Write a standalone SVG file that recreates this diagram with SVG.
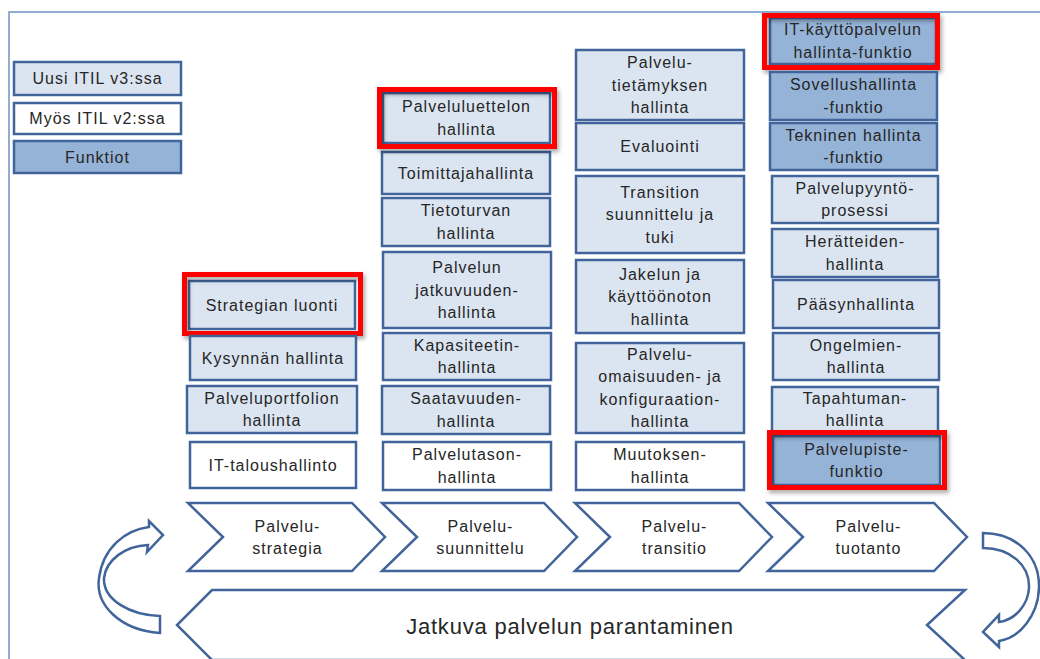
<svg xmlns="http://www.w3.org/2000/svg" width="1040" height="659" viewBox="0 0 1040 659">
  <defs>
    <filter id="shadow" x="-10%" y="-20%" width="130%" height="150%">
      <feDropShadow dx="2" dy="3" stdDeviation="2" flood-color="#000" flood-opacity="0.35"/>
    </filter>
    <style>
      .box { stroke: #41659a; stroke-width: 2.5; }
      .lt { fill: #dbe5f1; }
      .wh { fill: #ffffff; }
      .dk { fill: #95b3d7; }
      .red { fill: none; stroke: #ff0000; stroke-width: 5; filter: url(#shadow); }
      .frame { stroke: #6d93c4; stroke-width: 1.5; fill: none; }
      .shape { fill: #ffffff; stroke: #41659a; stroke-width: 2.5; stroke-linejoin: miter; }
      .arrow { fill: #ffffff; stroke: #41659a; stroke-width: 2.5; stroke-linejoin: miter; }
      text { font-family: "Liberation Sans", Arial, sans-serif; font-size: 16px; fill: #262626; text-anchor: middle; letter-spacing: 1px; }
      .big { font-size: 22px; letter-spacing: 0.8px; }
    </style>
  </defs>

  <!-- page frame -->
  <path class="frame" d="M9,659 L9,12 L1040,12"/>

  <!-- legend -->
  <g id="legend-new">
    <rect class="box lt" x="14" y="62" width="167" height="33"/>
    <text x="97.5" y="84">Uusi ITIL v3:ssa</text>
  </g>
  <g id="legend-also">
    <rect class="box wh" x="14" y="103" width="167" height="31"/>
    <text x="97.5" y="124">Myös ITIL v2:ssa</text>
  </g>
  <g id="legend-functions">
    <rect class="box dk" x="14" y="141" width="167" height="32"/>
    <text x="97.5" y="162.5">Funktiot</text>
  </g>

  <!-- strategy column -->
  <g id="strategian-luonti">
    <rect class="box lt" x="189" y="281" width="166" height="48"/>
    <rect class="red" x="184.5" y="274.5" width="176" height="59"/>
    <text x="272" y="310.5">Strategian luonti</text>
  </g>
  <g id="kysynnan-hallinta">
    <rect class="box lt" x="190" y="336" width="166" height="44"/>
    <text x="273" y="363.5">Kysynnän hallinta</text>
  </g>
  <g id="palveluportfolion-hallinta">
    <rect class="box lt" x="187" y="386" width="170" height="47"/>
    <text x="272" y="403.75">Palveluportfolion</text>
    <text x="272" y="426.25">hallinta</text>
  </g>
  <g id="it-taloushallinto">
    <rect class="box wh" x="190" y="442" width="166" height="46"/>
    <text x="273" y="470.5">IT-taloushallinto</text>
  </g>

  <!-- design column -->
  <g id="toimittajahallinta">
    <rect class="box lt" x="382" y="152" width="168" height="42"/>
    <text x="466" y="178.5">Toimittajahallinta</text>
  </g>
  <g id="palveluluettelon-hallinta">
    <rect class="box lt" x="383" y="93" width="167" height="50"/>
    <rect class="red" x="379.5" y="89.5" width="175" height="57"/>
    <text x="466.5" y="112.25">Palveluluettelon</text>
    <text x="466.5" y="134.75">hallinta</text>
  </g>
  <g id="tietoturvan-hallinta">
    <rect class="box lt" x="382" y="198" width="168" height="48"/>
    <text x="466" y="216.25">Tietoturvan</text>
    <text x="466" y="238.75">hallinta</text>
  </g>
  <g id="jatkuvuudenhallinta">
    <rect class="box lt" x="383" y="252" width="168" height="76"/>
    <text x="467" y="273">Palvelun</text>
    <text x="467" y="295.5">jatkuvuuden-</text>
    <text x="467" y="318">hallinta</text>
  </g>
  <g id="kapasiteetinhallinta">
    <rect class="box lt" x="383" y="333" width="168" height="47"/>
    <text x="467" y="350.75">Kapasiteetin-</text>
    <text x="467" y="373.25">hallinta</text>
  </g>
  <g id="saatavuudenhallinta">
    <rect class="box lt" x="382" y="386" width="168" height="48"/>
    <text x="466" y="404.25">Saatavuuden-</text>
    <text x="466" y="426.75">hallinta</text>
  </g>
  <g id="palvelutasonhallinta">
    <rect class="box wh" x="383" y="442" width="168" height="48"/>
    <text x="467" y="460.25">Palvelutason-</text>
    <text x="467" y="482.75">hallinta</text>
  </g>

  <!-- transition column -->
  <g id="tietamyksen-hallinta">
    <rect class="box lt" x="576" y="50" width="168" height="70"/>
    <text x="660" y="68">Palvelu-</text>
    <text x="660" y="90.5">tietämyksen</text>
    <text x="660" y="113">hallinta</text>
  </g>
  <g id="evaluointi">
    <rect class="box lt" x="576" y="123" width="168" height="47"/>
    <text x="660" y="152">Evaluointi</text>
  </g>
  <g id="transition-suunnittelu">
    <rect class="box lt" x="576" y="176" width="168" height="77"/>
    <text x="660" y="197.5">Transition</text>
    <text x="660" y="220">suunnittelu ja</text>
    <text x="660" y="242.5">tuki</text>
  </g>
  <g id="jakelu-kayttoonotto">
    <rect class="box lt" x="576" y="260" width="168" height="73"/>
    <text x="660" y="279.5">Jakelun ja</text>
    <text x="660" y="302">käyttöönoton</text>
    <text x="660" y="324.5">hallinta</text>
  </g>
  <g id="omaisuus-konfiguraatio">
    <rect class="box lt" x="576" y="343" width="168" height="90"/>
    <text x="660" y="359.75">Palvelu-</text>
    <text x="660" y="382.25">omaisuuden- ja</text>
    <text x="660" y="404.75">konfiguraation-</text>
    <text x="660" y="427.25">hallinta</text>
  </g>
  <g id="muutoksenhallinta">
    <rect class="box wh" x="576" y="442" width="168" height="48"/>
    <text x="660" y="460.25">Muutoksen-</text>
    <text x="660" y="482.75">hallinta</text>
  </g>

  <!-- operation column -->
  <g id="it-kayttopalvelu">
    <rect class="box dk" x="770" y="18" width="166" height="46"/>
    <rect class="red" x="764.5" y="15.5" width="173" height="52"/>
    <text x="853" y="35.25">IT-käyttöpalvelun</text>
    <text x="853" y="57.75">hallinta-funktio</text>
  </g>
  <g id="sovellushallinta">
    <rect class="box dk" x="770" y="72" width="167" height="48"/>
    <text x="853.5" y="90.25">Sovellushallinta</text>
    <text x="853.5" y="112.75">-funktio</text>
  </g>
  <g id="tekninen-hallinta">
    <rect class="box dk" x="770" y="123" width="167" height="47"/>
    <text x="853.5" y="140.75">Tekninen hallinta</text>
    <text x="853.5" y="163.25">-funktio</text>
  </g>
  <g id="palvelupyynto">
    <rect class="box lt" x="772" y="176" width="166" height="47"/>
    <text x="855" y="193.75">Palvelupyyntö-</text>
    <text x="855" y="216.25">prosessi</text>
  </g>
  <g id="heratteiden-hallinta">
    <rect class="box lt" x="772" y="229" width="166" height="48"/>
    <text x="855" y="247.25">Herätteiden-</text>
    <text x="855" y="269.75">hallinta</text>
  </g>
  <g id="paasynhallinta">
    <rect class="box lt" x="773" y="280" width="166" height="48"/>
    <text x="856" y="309.5">Pääsynhallinta</text>
  </g>
  <g id="ongelmien-hallinta">
    <rect class="box lt" x="773" y="333" width="166" height="47"/>
    <text x="856" y="350.75">Ongelmien-</text>
    <text x="856" y="373.25">hallinta</text>
  </g>
  <g id="tapahtuman-hallinta">
    <rect class="box lt" x="772" y="387" width="166" height="45"/>
    <text x="855" y="403.75">Tapahtuman-</text>
    <text x="855" y="426.25">hallinta</text>
  </g>
  <g id="palvelupiste">
    <rect class="box dk" x="773" y="436" width="167" height="49"/>
    <rect class="red" x="769.5" y="432.5" width="175" height="55"/>
    <text x="856.5" y="454.75">Palvelupiste-</text>
    <text x="856.5" y="477.25">funktio</text>
  </g>

  <!-- lifecycle stages -->
  <g id="stage-strategia">
    <path class="shape" d="M188,503 L352,503 L385,537 L352,571 L188,571 L223,537 Z"/>
    <text x="287.5" y="532">Palvelu-</text>
    <text x="287.5" y="554">strategia</text>
  </g>
  <g id="stage-suunnittelu">
    <path class="shape" d="M382,503 L544,503 L577,537 L544,571 L382,571 L417,537 Z"/>
    <text x="480.5" y="532">Palvelu-</text>
    <text x="480.5" y="554">suunnittelu</text>
  </g>
  <g id="stage-transitio">
    <path class="shape" d="M575,503 L739,503 L772,537 L739,571 L575,571 L610,537 Z"/>
    <text x="674.5" y="532">Palvelu-</text>
    <text x="674.5" y="554">transitio</text>
  </g>
  <g id="stage-tuotanto">
    <path class="shape" d="M768,503 L934,503 L967,537 L934,571 L768,571 L803,537 Z"/>
    <text x="868.5" y="532">Palvelu-</text>
    <text x="868.5" y="554">tuotanto</text>
  </g>

  <!-- continual improvement band -->
  <g id="jatkuva-parantaminen">
    <path class="shape" d="M212,590 L965,590 L927,625 L965,660 L212,660 L177,625 Z"/>
    <text class="big" x="570" y="634">Jatkuva palvelun parantaminen</text>
  </g>

  <!-- loop arrows -->
  <g id="connectors">
    <path class="arrow" d="M160,633 C120,630 95,605 99,578 C103,548 125,530 149,527 L149,521 L163,535 L147,552 L148,545 C125,546 106,560 104,578 C103,600 130,615 160,616 Z"/>
    <path class="arrow" d="M983,533 C1015,533 1040,555 1039,588 C1038,615 1020,638 999,641 L999,647 L983,632 L999,615 L999,622 C1015,620 1028,605 1029,588 C1030,565 1010,548 983,548 Z"/>
  </g>
</svg>
